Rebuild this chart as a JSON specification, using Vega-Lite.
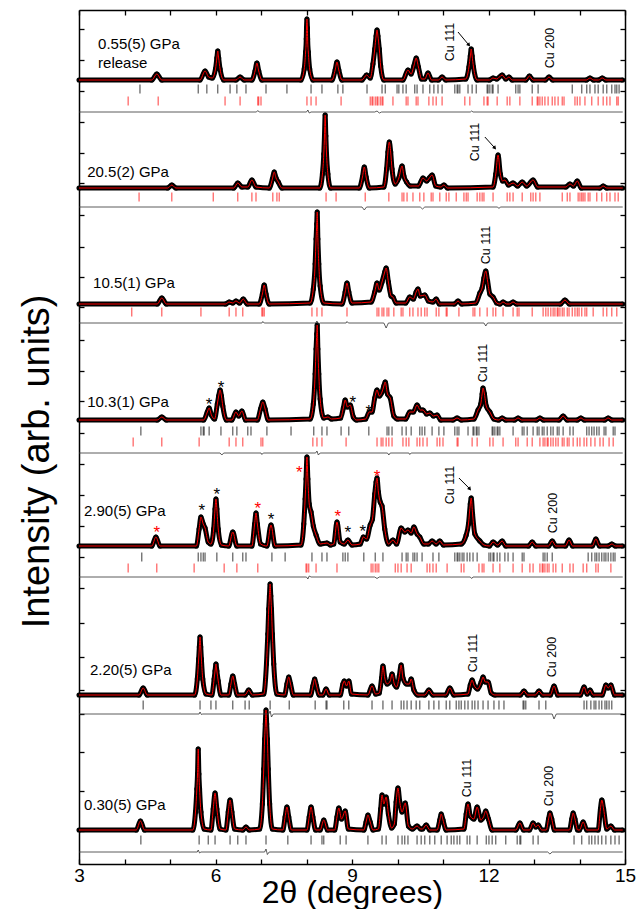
{
"$schema": "https://vega.github.io/schema/vega-lite/v6.json",
"width": 546, "height": 854,
"autosize": "none",
"padding": {"left": 79, "top": 10, "right": 16, "bottom": 45},
"background": "white",
"config": {"view": {"stroke": null}, "font": "Liberation Sans"},
"datasets": {
"obs": [
{"p":1,"x":3.0,"y":784},{"p":1,"x":4.6,"y":784},{"p":1,"x":4.71,"y":790},{"p":1,"x":4.82,"y":784},{"p":1,"x":5.66,"y":784},{"p":1,"x":5.77,"y":793},{"p":1,"x":5.85,"y":787},{"p":1,"x":5.93,"y":786},{"p":1,"x":6.0,"y":795},{"p":1,"x":6.03,"y":806},{"p":1,"x":6.05,"y":813},{"p":1,"x":6.07,"y":806},{"p":1,"x":6.1,"y":795},{"p":1,"x":6.18,"y":784},{"p":1,"x":6.45,"y":784},{"p":1,"x":6.54,"y":787},{"p":1,"x":6.63,"y":784},{"p":1,"x":6.8,"y":784},{"p":1,"x":6.87,"y":793},{"p":1,"x":6.91,"y":801},{"p":1,"x":6.95,"y":793},{"p":1,"x":7.02,"y":784},{"p":1,"x":7.88,"y":784},{"p":1,"x":7.95,"y":795},{"p":1,"x":7.98,"y":812},{"p":1,"x":7.995,"y":825},{"p":1,"x":8.0,"y":836},{"p":1,"x":8.01,"y":845},{"p":1,"x":8.02,"y":836},{"p":1,"x":8.025,"y":825},{"p":1,"x":8.04,"y":812},{"p":1,"x":8.07,"y":795},{"p":1,"x":8.14,"y":784},{"p":1,"x":8.56,"y":784},{"p":1,"x":8.63,"y":794},{"p":1,"x":8.67,"y":802},{"p":1,"x":8.71,"y":794},{"p":1,"x":8.78,"y":784},{"p":1,"x":9.22,"y":784},{"p":1,"x":9.32,"y":789},{"p":1,"x":9.4,"y":786},{"p":1,"x":9.46,"y":800},{"p":1,"x":9.5,"y":815},{"p":1,"x":9.53,"y":828},{"p":1,"x":9.55,"y":834},{"p":1,"x":9.57,"y":828},{"p":1,"x":9.6,"y":815},{"p":1,"x":9.63,"y":798},{"p":1,"x":9.7,"y":784},{"p":1,"x":10.12,"y":784},{"p":1,"x":10.23,"y":794},{"p":1,"x":10.3,"y":790},{"p":1,"x":10.36,"y":798},{"p":1,"x":10.41,"y":806},{"p":1,"x":10.46,"y":797},{"p":1,"x":10.53,"y":785},{"p":1,"x":10.6,"y":785},{"p":1,"x":10.67,"y":791},{"p":1,"x":10.75,"y":784},{"p":1,"x":10.9,"y":784},{"p":1,"x":10.98,"y":787},{"p":1,"x":11.06,"y":784},{"p":1,"x":11.5,"y":785},{"p":1,"x":11.57,"y":797},{"p":1,"x":11.6,"y":808},{"p":1,"x":11.62,"y":815},{"p":1,"x":11.64,"y":808},{"p":1,"x":11.67,"y":797},{"p":1,"x":11.75,"y":784},{"p":1,"x":12.02,"y":784},{"p":1,"x":12.1,"y":786},{"p":1,"x":12.18,"y":785},{"p":1,"x":12.3,"y":789},{"p":1,"x":12.38,"y":785},{"p":1,"x":12.45,"y":787},{"p":1,"x":12.52,"y":784},{"p":1,"x":12.82,"y":784},{"p":1,"x":12.9,"y":788},{"p":1,"x":12.98,"y":784},{"p":1,"x":13.25,"y":784},{"p":1,"x":13.33,"y":787},{"p":1,"x":13.41,"y":784},{"p":1,"x":14.15,"y":784},{"p":1,"x":14.23,"y":786},{"p":1,"x":14.31,"y":784},{"p":1,"x":14.42,"y":784},{"p":1,"x":14.5,"y":786},{"p":1,"x":14.58,"y":784},{"p":1,"x":14.95,"y":784},
{"p":2,"x":3.0,"y":676},{"p":2,"x":4.95,"y":676},{"p":2,"x":5.04,"y":679},{"p":2,"x":5.13,"y":676},{"p":2,"x":6.4,"y":676},{"p":2,"x":6.49,"y":681},{"p":2,"x":6.58,"y":677},{"p":2,"x":6.71,"y":677},{"p":2,"x":6.8,"y":684},{"p":2,"x":6.89,"y":677},{"p":2,"x":7.18,"y":676},{"p":2,"x":7.25,"y":685},{"p":2,"x":7.29,"y":692},{"p":2,"x":7.33,"y":686},{"p":2,"x":7.38,"y":682},{"p":2,"x":7.46,"y":676},{"p":2,"x":8.29,"y":676},{"p":2,"x":8.35,"y":690},{"p":2,"x":8.38,"y":710},{"p":2,"x":8.395,"y":728},{"p":2,"x":8.41,"y":749},{"p":2,"x":8.425,"y":728},{"p":2,"x":8.44,"y":710},{"p":2,"x":8.47,"y":690},{"p":2,"x":8.53,"y":676},{"p":2,"x":9.16,"y":676},{"p":2,"x":9.23,"y":687},{"p":2,"x":9.27,"y":697},{"p":2,"x":9.31,"y":687},{"p":2,"x":9.38,"y":676},{"p":2,"x":9.7,"y":677},{"p":2,"x":9.76,"y":695},{"p":2,"x":9.79,"y":712},{"p":2,"x":9.82,"y":722},{"p":2,"x":9.85,"y":712},{"p":2,"x":9.88,"y":695},{"p":2,"x":9.95,"y":680},{"p":2,"x":10.03,"y":686},{"p":2,"x":10.1,"y":698},{"p":2,"x":10.14,"y":688},{"p":2,"x":10.2,"y":682},{"p":2,"x":10.28,"y":678},{"p":2,"x":10.46,"y":678},{"p":2,"x":10.56,"y":686},{"p":2,"x":10.64,"y":683},{"p":2,"x":10.7,"y":686},{"p":2,"x":10.76,"y":689},{"p":2,"x":10.84,"y":678},{"p":2,"x":10.95,"y":677},{"p":2,"x":11.02,"y":679},{"p":2,"x":11.1,"y":676},{"p":2,"x":12.1,"y":677},{"p":2,"x":12.16,"y":690},{"p":2,"x":12.21,"y":709},{"p":2,"x":12.26,"y":690},{"p":2,"x":12.31,"y":683},{"p":2,"x":12.36,"y":684},{"p":2,"x":12.44,"y":679},{"p":2,"x":12.54,"y":681},{"p":2,"x":12.64,"y":678},{"p":2,"x":12.74,"y":682},{"p":2,"x":12.84,"y":678},{"p":2,"x":12.98,"y":684},{"p":2,"x":13.08,"y":677},{"p":2,"x":13.7,"y":677},{"p":2,"x":13.79,"y":680},{"p":2,"x":13.87,"y":678},{"p":2,"x":13.95,"y":683},{"p":2,"x":14.04,"y":676},{"p":2,"x":14.45,"y":676},{"p":2,"x":14.52,"y":678},{"p":2,"x":14.6,"y":676},{"p":2,"x":14.95,"y":676},
{"p":3,"x":3.0,"y":560},{"p":3,"x":4.72,"y":560},{"p":3,"x":4.82,"y":566},{"p":3,"x":4.92,"y":560},{"p":3,"x":6.22,"y":560},{"p":3,"x":6.3,"y":562},{"p":3,"x":6.38,"y":561},{"p":3,"x":6.45,"y":563},{"p":3,"x":6.53,"y":561},{"p":3,"x":6.61,"y":565},{"p":3,"x":6.7,"y":560},{"p":3,"x":6.96,"y":560},{"p":3,"x":7.03,"y":570},{"p":3,"x":7.07,"y":579},{"p":3,"x":7.11,"y":570},{"p":3,"x":7.18,"y":560},{"p":3,"x":8.08,"y":561},{"p":3,"x":8.15,"y":575},{"p":3,"x":8.19,"y":600},{"p":3,"x":8.21,"y":625},{"p":3,"x":8.225,"y":640},{"p":3,"x":8.235,"y":652},{"p":3,"x":8.25,"y":625},{"p":3,"x":8.27,"y":600},{"p":3,"x":8.3,"y":578},{"p":3,"x":8.38,"y":561},{"p":3,"x":8.78,"y":560},{"p":3,"x":8.85,"y":572},{"p":3,"x":8.89,"y":581},{"p":3,"x":8.93,"y":572},{"p":3,"x":9.0,"y":561},{"p":3,"x":9.42,"y":562},{"p":3,"x":9.5,"y":572},{"p":3,"x":9.55,"y":581},{"p":3,"x":9.6,"y":574},{"p":3,"x":9.66,"y":582},{"p":3,"x":9.72,"y":592},{"p":3,"x":9.75,"y":596},{"p":3,"x":9.8,"y":582},{"p":3,"x":9.86,"y":568},{"p":3,"x":9.9,"y":567},{"p":3,"x":9.97,"y":561},{"p":3,"x":10.18,"y":561},{"p":3,"x":10.27,"y":567},{"p":3,"x":10.35,"y":565},{"p":3,"x":10.41,"y":572},{"p":3,"x":10.45,"y":575},{"p":3,"x":10.5,"y":568},{"p":3,"x":10.6,"y":569},{"p":3,"x":10.68,"y":563},{"p":3,"x":10.78,"y":562},{"p":3,"x":10.85,"y":565},{"p":3,"x":10.92,"y":560},{"p":3,"x":11.25,"y":560},{"p":3,"x":11.33,"y":563},{"p":3,"x":11.41,"y":560},{"p":3,"x":11.72,"y":561},{"p":3,"x":11.81,"y":571},{"p":3,"x":11.86,"y":576},{"p":3,"x":11.9,"y":586},{"p":3,"x":11.94,"y":593},{"p":3,"x":11.98,"y":583},{"p":3,"x":12.03,"y":570},{"p":3,"x":12.1,"y":567},{"p":3,"x":12.18,"y":561},{"p":3,"x":12.25,"y":560},{"p":3,"x":12.32,"y":562},{"p":3,"x":12.4,"y":560},{"p":3,"x":12.46,"y":560},{"p":3,"x":12.54,"y":562},{"p":3,"x":12.62,"y":560},{"p":3,"x":13.58,"y":560},{"p":3,"x":13.68,"y":564},{"p":3,"x":13.78,"y":560},{"p":3,"x":14.95,"y":560},
{"p":4,"x":3.0,"y":444},{"p":4,"x":4.72,"y":444},{"p":4,"x":4.82,"y":447},{"p":4,"x":4.92,"y":444},{"p":4,"x":5.74,"y":444},{"p":4,"x":5.82,"y":452},{"p":4,"x":5.86,"y":456},{"p":4,"x":5.91,"y":449},{"p":4,"x":5.98,"y":445},{"p":4,"x":6.04,"y":460},{"p":4,"x":6.07,"y":468},{"p":4,"x":6.1,"y":474},{"p":4,"x":6.13,"y":468},{"p":4,"x":6.16,"y":458},{"p":4,"x":6.24,"y":444},{"p":4,"x":6.36,"y":444},{"p":4,"x":6.45,"y":452},{"p":4,"x":6.51,"y":448},{"p":4,"x":6.58,"y":453},{"p":4,"x":6.66,"y":444},{"p":4,"x":6.92,"y":444},{"p":4,"x":6.99,"y":455},{"p":4,"x":7.04,"y":462},{"p":4,"x":7.09,"y":455},{"p":4,"x":7.16,"y":444},{"p":4,"x":8.08,"y":445},{"p":4,"x":8.15,"y":460},{"p":4,"x":8.19,"y":490},{"p":4,"x":8.21,"y":515},{"p":4,"x":8.225,"y":530},{"p":4,"x":8.235,"y":539},{"p":4,"x":8.25,"y":515},{"p":4,"x":8.27,"y":490},{"p":4,"x":8.3,"y":465},{"p":4,"x":8.38,"y":446},{"p":4,"x":8.47,"y":447},{"p":4,"x":8.55,"y":445},{"p":4,"x":8.75,"y":446},{"p":4,"x":8.81,"y":456},{"p":4,"x":8.85,"y":464},{"p":4,"x":8.9,"y":457},{"p":4,"x":8.96,"y":459},{"p":4,"x":9.03,"y":447},{"p":4,"x":9.1,"y":444},{"p":4,"x":9.3,"y":445},{"p":4,"x":9.38,"y":452},{"p":4,"x":9.44,"y":452},{"p":4,"x":9.5,"y":466},{"p":4,"x":9.55,"y":474},{"p":4,"x":9.6,"y":468},{"p":4,"x":9.66,"y":472},{"p":4,"x":9.7,"y":478},{"p":4,"x":9.73,"y":482},{"p":4,"x":9.78,"y":470},{"p":4,"x":9.84,"y":466},{"p":4,"x":9.92,"y":448},{"p":4,"x":10.0,"y":445},{"p":4,"x":10.18,"y":445},{"p":4,"x":10.27,"y":452},{"p":4,"x":10.35,"y":452},{"p":4,"x":10.43,"y":459},{"p":4,"x":10.5,"y":454},{"p":4,"x":10.56,"y":454},{"p":4,"x":10.64,"y":450},{"p":4,"x":10.71,"y":451},{"p":4,"x":10.79,"y":448},{"p":4,"x":10.87,"y":449},{"p":4,"x":10.95,"y":444},{"p":4,"x":11.22,"y":444},{"p":4,"x":11.31,"y":446},{"p":4,"x":11.4,"y":444},{"p":4,"x":11.68,"y":445},{"p":4,"x":11.77,"y":454},{"p":4,"x":11.83,"y":460},{"p":4,"x":11.86,"y":470},{"p":4,"x":11.88,"y":476},{"p":4,"x":11.91,"y":470},{"p":4,"x":11.95,"y":458},{"p":4,"x":12.03,"y":452},{"p":4,"x":12.12,"y":445},{"p":4,"x":12.22,"y":444},{"p":4,"x":12.3,"y":446},{"p":4,"x":12.38,"y":444},{"p":4,"x":12.57,"y":444},{"p":4,"x":12.65,"y":446},{"p":4,"x":12.73,"y":444},{"p":4,"x":13.05,"y":444},{"p":4,"x":13.13,"y":446},{"p":4,"x":13.21,"y":444},{"p":4,"x":13.55,"y":444},{"p":4,"x":13.64,"y":448},{"p":4,"x":13.73,"y":444},{"p":4,"x":13.95,"y":444},{"p":4,"x":14.03,"y":446},{"p":4,"x":14.11,"y":444},{"p":4,"x":14.55,"y":444},{"p":4,"x":14.63,"y":446},{"p":4,"x":14.71,"y":444},{"p":4,"x":14.95,"y":444},
{"p":5,"x":3.0,"y":318},{"p":5,"x":4.6,"y":318},{"p":5,"x":4.69,"y":327},{"p":5,"x":4.78,"y":318},{"p":5,"x":5.58,"y":318},{"p":5,"x":5.64,"y":335},{"p":5,"x":5.68,"y":347},{"p":5,"x":5.73,"y":340},{"p":5,"x":5.77,"y":336},{"p":5,"x":5.84,"y":322},{"p":5,"x":5.9,"y":320},{"p":5,"x":5.96,"y":335},{"p":5,"x":5.99,"y":355},{"p":5,"x":6.01,"y":365},{"p":5,"x":6.03,"y":355},{"p":5,"x":6.06,"y":335},{"p":5,"x":6.13,"y":319},{"p":5,"x":6.29,"y":318},{"p":5,"x":6.38,"y":332},{"p":5,"x":6.47,"y":318},{"p":5,"x":6.8,"y":318},{"p":5,"x":6.86,"y":340},{"p":5,"x":6.89,"y":351},{"p":5,"x":6.92,"y":340},{"p":5,"x":6.99,"y":320},{"p":5,"x":7.13,"y":318},{"p":5,"x":7.22,"y":339},{"p":5,"x":7.31,"y":318},{"p":5,"x":7.88,"y":319},{"p":5,"x":7.94,"y":340},{"p":5,"x":7.97,"y":365},{"p":5,"x":7.99,"y":385},{"p":5,"x":8.01,"y":407},{"p":5,"x":8.03,"y":385},{"p":5,"x":8.06,"y":360},{"p":5,"x":8.1,"y":352},{"p":5,"x":8.15,"y":338},{"p":5,"x":8.21,"y":329},{"p":5,"x":8.3,"y":320},{"p":5,"x":8.45,"y":321},{"p":5,"x":8.53,"y":319},{"p":5,"x":8.6,"y":320},{"p":5,"x":8.67,"y":342},{"p":5,"x":8.74,"y":322},{"p":5,"x":8.83,"y":320},{"p":5,"x":8.91,"y":324},{"p":5,"x":9.0,"y":319},{"p":5,"x":9.18,"y":320},{"p":5,"x":9.25,"y":327},{"p":5,"x":9.32,"y":325},{"p":5,"x":9.4,"y":339},{"p":5,"x":9.45,"y":345},{"p":5,"x":9.5,"y":370},{"p":5,"x":9.53,"y":382},{"p":5,"x":9.55,"y":386},{"p":5,"x":9.58,"y":372},{"p":5,"x":9.62,"y":362},{"p":5,"x":9.66,"y":358},{"p":5,"x":9.72,"y":335},{"p":5,"x":9.8,"y":320},{"p":5,"x":9.9,"y":324},{"p":5,"x":9.98,"y":320},{"p":5,"x":10.08,"y":336},{"p":5,"x":10.16,"y":332},{"p":5,"x":10.23,"y":334},{"p":5,"x":10.3,"y":331},{"p":5,"x":10.36,"y":337},{"p":5,"x":10.43,"y":330},{"p":5,"x":10.49,"y":327},{"p":5,"x":10.58,"y":320},{"p":5,"x":10.68,"y":320},{"p":5,"x":10.76,"y":323},{"p":5,"x":10.85,"y":320},{"p":5,"x":10.93,"y":323},{"p":5,"x":11.01,"y":319},{"p":5,"x":11.4,"y":320},{"p":5,"x":11.51,"y":329},{"p":5,"x":11.56,"y":340},{"p":5,"x":11.6,"y":360},{"p":5,"x":11.62,"y":366},{"p":5,"x":11.65,"y":350},{"p":5,"x":11.7,"y":330},{"p":5,"x":11.81,"y":323},{"p":5,"x":11.9,"y":319},{"p":5,"x":12.02,"y":318},{"p":5,"x":12.1,"y":322},{"p":5,"x":12.2,"y":319},{"p":5,"x":12.3,"y":323},{"p":5,"x":12.38,"y":318},{"p":5,"x":12.88,"y":318},{"p":5,"x":12.96,"y":322},{"p":5,"x":13.04,"y":318},{"p":5,"x":13.32,"y":318},{"p":5,"x":13.4,"y":323},{"p":5,"x":13.48,"y":318},{"p":5,"x":13.69,"y":318},{"p":5,"x":13.77,"y":324},{"p":5,"x":13.85,"y":318},{"p":5,"x":14.28,"y":318},{"p":5,"x":14.36,"y":325},{"p":5,"x":14.44,"y":318},{"p":5,"x":14.63,"y":318},{"p":5,"x":14.71,"y":320},{"p":5,"x":14.79,"y":318},{"p":5,"x":14.95,"y":318},
{"p":6,"x":3.0,"y":169},{"p":6,"x":4.32,"y":169},{"p":6,"x":4.41,"y":176},{"p":6,"x":4.5,"y":169},{"p":6,"x":5.54,"y":169},{"p":6,"x":5.6,"y":185},{"p":6,"x":5.63,"y":205},{"p":6,"x":5.645,"y":217},{"p":6,"x":5.66,"y":227},{"p":6,"x":5.675,"y":217},{"p":6,"x":5.69,"y":205},{"p":6,"x":5.72,"y":185},{"p":6,"x":5.79,"y":170},{"p":6,"x":5.92,"y":169},{"p":6,"x":5.97,"y":185},{"p":6,"x":5.99,"y":193},{"p":6,"x":6.01,"y":200},{"p":6,"x":6.03,"y":193},{"p":6,"x":6.06,"y":183},{"p":6,"x":6.12,"y":169},{"p":6,"x":6.29,"y":169},{"p":6,"x":6.34,"y":180},{"p":6,"x":6.38,"y":188},{"p":6,"x":6.42,"y":180},{"p":6,"x":6.48,"y":169},{"p":6,"x":6.65,"y":169},{"p":6,"x":6.73,"y":174},{"p":6,"x":6.81,"y":169},{"p":6,"x":7.06,"y":170},{"p":6,"x":7.12,"y":200},{"p":6,"x":7.15,"y":230},{"p":6,"x":7.17,"y":255},{"p":6,"x":7.185,"y":268},{"p":6,"x":7.2,"y":280},{"p":6,"x":7.215,"y":268},{"p":6,"x":7.23,"y":255},{"p":6,"x":7.25,"y":230},{"p":6,"x":7.28,"y":200},{"p":6,"x":7.35,"y":170},{"p":6,"x":7.52,"y":169},{"p":6,"x":7.57,"y":180},{"p":6,"x":7.61,"y":187},{"p":6,"x":7.65,"y":180},{"p":6,"x":7.71,"y":169},{"p":6,"x":8.09,"y":169},{"p":6,"x":8.14,"y":178},{"p":6,"x":8.18,"y":185},{"p":6,"x":8.22,"y":178},{"p":6,"x":8.28,"y":169},{"p":6,"x":8.36,"y":169},{"p":6,"x":8.43,"y":175},{"p":6,"x":8.5,"y":169},{"p":6,"x":8.74,"y":169},{"p":6,"x":8.8,"y":180},{"p":6,"x":8.83,"y":183},{"p":6,"x":8.88,"y":178},{"p":6,"x":8.93,"y":183},{"p":6,"x":8.99,"y":170},{"p":6,"x":9.35,"y":169},{"p":6,"x":9.44,"y":178},{"p":6,"x":9.52,"y":170},{"p":6,"x":9.6,"y":171},{"p":6,"x":9.65,"y":186},{"p":6,"x":9.68,"y":198},{"p":6,"x":9.72,"y":186},{"p":6,"x":9.77,"y":180},{"p":6,"x":9.84,"y":183},{"p":6,"x":9.88,"y":190},{"p":6,"x":9.93,"y":180},{"p":6,"x":9.98,"y":177},{"p":6,"x":10.04,"y":188},{"p":6,"x":10.08,"y":199},{"p":6,"x":10.12,"y":186},{"p":6,"x":10.2,"y":180},{"p":6,"x":10.26,"y":180},{"p":6,"x":10.3,"y":185},{"p":6,"x":10.36,"y":174},{"p":6,"x":10.45,"y":169},{"p":6,"x":10.6,"y":169},{"p":6,"x":10.69,"y":174},{"p":6,"x":10.78,"y":169},{"p":6,"x":11.06,"y":169},{"p":6,"x":11.15,"y":176},{"p":6,"x":11.24,"y":169},{"p":6,"x":11.55,"y":170},{"p":6,"x":11.6,"y":179},{"p":6,"x":11.64,"y":184},{"p":6,"x":11.68,"y":179},{"p":6,"x":11.76,"y":175},{"p":6,"x":11.84,"y":182},{"p":6,"x":11.88,"y":187},{"p":6,"x":11.93,"y":182},{"p":6,"x":11.99,"y":182},{"p":6,"x":12.06,"y":171},{"p":6,"x":12.14,"y":169},{"p":6,"x":12.7,"y":169},{"p":6,"x":12.78,"y":173},{"p":6,"x":12.86,"y":169},{"p":6,"x":13.03,"y":169},{"p":6,"x":13.11,"y":173},{"p":6,"x":13.19,"y":169},{"p":6,"x":13.36,"y":169},{"p":6,"x":13.44,"y":178},{"p":6,"x":13.52,"y":169},{"p":6,"x":14.02,"y":169},{"p":6,"x":14.1,"y":177},{"p":6,"x":14.17,"y":170},{"p":6,"x":14.23,"y":174},{"p":6,"x":14.3,"y":169},{"p":6,"x":14.5,"y":169},{"p":6,"x":14.58,"y":179},{"p":6,"x":14.63,"y":176},{"p":6,"x":14.69,"y":179},{"p":6,"x":14.77,"y":169},{"p":6,"x":14.95,"y":169},
{"p":7,"x":3.0,"y":34},{"p":7,"x":4.26,"y":34},{"p":7,"x":4.35,"y":43},{"p":7,"x":4.44,"y":34},{"p":7,"x":5.5,"y":34},{"p":7,"x":5.56,"y":52},{"p":7,"x":5.59,"y":75},{"p":7,"x":5.605,"y":90},{"p":7,"x":5.62,"y":115},{"p":7,"x":5.635,"y":90},{"p":7,"x":5.65,"y":75},{"p":7,"x":5.68,"y":52},{"p":7,"x":5.75,"y":35},{"p":7,"x":5.9,"y":34},{"p":7,"x":5.95,"y":55},{"p":7,"x":5.99,"y":71},{"p":7,"x":6.03,"y":55},{"p":7,"x":6.1,"y":35},{"p":7,"x":6.23,"y":34},{"p":7,"x":6.28,"y":52},{"p":7,"x":6.32,"y":64},{"p":7,"x":6.36,"y":52},{"p":7,"x":6.42,"y":35},{"p":7,"x":6.6,"y":34},{"p":7,"x":6.67,"y":37},{"p":7,"x":6.74,"y":34},{"p":7,"x":6.97,"y":35},{"p":7,"x":7.03,"y":60},{"p":7,"x":7.06,"y":95},{"p":7,"x":7.08,"y":125},{"p":7,"x":7.095,"y":140},{"p":7,"x":7.11,"y":154},{"p":7,"x":7.125,"y":140},{"p":7,"x":7.14,"y":125},{"p":7,"x":7.16,"y":95},{"p":7,"x":7.19,"y":60},{"p":7,"x":7.25,"y":35},{"p":7,"x":7.48,"y":34},{"p":7,"x":7.53,"y":47},{"p":7,"x":7.57,"y":57},{"p":7,"x":7.61,"y":47},{"p":7,"x":7.67,"y":34},{"p":7,"x":8.01,"y":34},{"p":7,"x":8.06,"y":47},{"p":7,"x":8.1,"y":57},{"p":7,"x":8.14,"y":47},{"p":7,"x":8.2,"y":34},{"p":7,"x":8.3,"y":34},{"p":7,"x":8.38,"y":44},{"p":7,"x":8.46,"y":34},{"p":7,"x":8.62,"y":34},{"p":7,"x":8.67,"y":47},{"p":7,"x":8.71,"y":56},{"p":7,"x":8.77,"y":45},{"p":7,"x":8.85,"y":53},{"p":7,"x":8.92,"y":35},{"p":7,"x":9.26,"y":34},{"p":7,"x":9.31,"y":42},{"p":7,"x":9.35,"y":49},{"p":7,"x":9.4,"y":42},{"p":7,"x":9.46,"y":34},{"p":7,"x":9.58,"y":35},{"p":7,"x":9.63,"y":55},{"p":7,"x":9.66,"y":69},{"p":7,"x":9.7,"y":60},{"p":7,"x":9.75,"y":67},{"p":7,"x":9.8,"y":50},{"p":7,"x":9.87,"y":36},{"p":7,"x":9.93,"y":40},{"p":7,"x":9.97,"y":62},{"p":7,"x":10.01,"y":76},{"p":7,"x":10.05,"y":62},{"p":7,"x":10.1,"y":52},{"p":7,"x":10.17,"y":61},{"p":7,"x":10.24,"y":38},{"p":7,"x":10.33,"y":35},{"p":7,"x":10.43,"y":38},{"p":7,"x":10.51,"y":35},{"p":7,"x":10.55,"y":35},{"p":7,"x":10.63,"y":39},{"p":7,"x":10.71,"y":34},{"p":7,"x":10.87,"y":34},{"p":7,"x":10.93,"y":44},{"p":7,"x":10.96,"y":50},{"p":7,"x":11.0,"y":44},{"p":7,"x":11.07,"y":34},{"p":7,"x":11.46,"y":35},{"p":7,"x":11.51,"y":50},{"p":7,"x":11.55,"y":60},{"p":7,"x":11.6,"y":48},{"p":7,"x":11.68,"y":45},{"p":7,"x":11.75,"y":57},{"p":7,"x":11.83,"y":44},{"p":7,"x":11.89,"y":47},{"p":7,"x":11.94,"y":53},{"p":7,"x":12.0,"y":45},{"p":7,"x":12.08,"y":34},{"p":7,"x":12.6,"y":34},{"p":7,"x":12.69,"y":41},{"p":7,"x":12.77,"y":34},{"p":7,"x":12.9,"y":34},{"p":7,"x":12.98,"y":41},{"p":7,"x":13.04,"y":37},{"p":7,"x":13.09,"y":39},{"p":7,"x":13.17,"y":34},{"p":7,"x":13.27,"y":34},{"p":7,"x":13.32,"y":45},{"p":7,"x":13.35,"y":51},{"p":7,"x":13.39,"y":45},{"p":7,"x":13.45,"y":34},{"p":7,"x":13.78,"y":34},{"p":7,"x":13.83,"y":45},{"p":7,"x":13.86,"y":51},{"p":7,"x":13.9,"y":45},{"p":7,"x":13.96,"y":34},{"p":7,"x":14.0,"y":34},{"p":7,"x":14.08,"y":42},{"p":7,"x":14.16,"y":34},{"p":7,"x":14.41,"y":34},{"p":7,"x":14.46,"y":55},{"p":7,"x":14.49,"y":64},{"p":7,"x":14.53,"y":55},{"p":7,"x":14.6,"y":35},{"p":7,"x":14.69,"y":38},{"p":7,"x":14.77,"y":34},{"p":7,"x":14.95,"y":34}
],
"diff": [
{"p":1,"x":3.0,"y":752},{"p":1,"x":6.9,"y":752},{"p":1,"x":6.93,"y":753.5},{"p":1,"x":6.96,"y":752},{"p":1,"x":8.0,"y":752},{"p":1,"x":8.03,"y":754},{"p":1,"x":8.06,"y":751},{"p":1,"x":8.1,"y":752},{"p":1,"x":9.5,"y":752},{"p":1,"x":9.55,"y":753},{"p":1,"x":9.6,"y":751},{"p":1,"x":9.65,"y":752},{"p":1,"x":11.6,"y":752},{"p":1,"x":11.63,"y":753},{"p":1,"x":11.66,"y":752},{"p":1,"x":14.95,"y":752},
{"p":2,"x":3.0,"y":657},{"p":2,"x":9.22,"y":657},{"p":2,"x":9.27,"y":654},{"p":2,"x":9.32,"y":657},{"p":2,"x":10.5,"y":657},{"p":2,"x":10.55,"y":655},{"p":2,"x":10.6,"y":657},{"p":2,"x":12.2,"y":657},{"p":2,"x":12.23,"y":655.5},{"p":2,"x":12.26,"y":657},{"p":2,"x":14.95,"y":657},
{"p":3,"x":3.0,"y":541},{"p":3,"x":7.02,"y":541},{"p":3,"x":7.04,"y":542.5},{"p":3,"x":7.07,"y":541},{"p":3,"x":8.2,"y":541},{"p":3,"x":8.23,"y":543},{"p":3,"x":8.26,"y":540},{"p":3,"x":8.3,"y":541},{"p":3,"x":8.87,"y":541},{"p":3,"x":8.89,"y":542.5},{"p":3,"x":8.92,"y":541},{"p":3,"x":9.7,"y":541},{"p":3,"x":9.75,"y":536},{"p":3,"x":9.8,"y":541},{"p":3,"x":11.9,"y":541},{"p":3,"x":11.94,"y":538},{"p":3,"x":11.98,"y":541},{"p":3,"x":14.95,"y":541},
{"p":4,"x":3.0,"y":411},{"p":4,"x":6.1,"y":411},{"p":4,"x":6.14,"y":409},{"p":4,"x":6.18,"y":411},{"p":4,"x":7.0,"y":411},{"p":4,"x":7.02,"y":409.5},{"p":4,"x":7.05,"y":411},{"p":4,"x":8.2,"y":411},{"p":4,"x":8.23,"y":413},{"p":4,"x":8.26,"y":409},{"p":4,"x":8.3,"y":411},{"p":4,"x":9.78,"y":411},{"p":4,"x":9.81,"y":409},{"p":4,"x":9.84,"y":411},{"p":4,"x":10.25,"y":411},{"p":4,"x":10.27,"y":409.5},{"p":4,"x":10.3,"y":411},{"p":4,"x":14.95,"y":411},
{"p":5,"x":3.0,"y":287},{"p":5,"x":8.0,"y":287},{"p":5,"x":8.03,"y":285},{"p":5,"x":8.06,"y":288},{"p":5,"x":8.1,"y":287},{"p":5,"x":9.5,"y":287},{"p":5,"x":9.55,"y":285.5},{"p":5,"x":9.6,"y":287},{"p":5,"x":11.6,"y":287},{"p":5,"x":11.63,"y":285.5},{"p":5,"x":11.66,"y":287},{"p":5,"x":14.95,"y":287},
{"p":6,"x":3.0,"y":150},{"p":6,"x":5.64,"y":150},{"p":6,"x":5.66,"y":152},{"p":6,"x":5.69,"y":149.5},{"p":6,"x":5.72,"y":150},{"p":6,"x":7.17,"y":150},{"p":6,"x":7.2,"y":153},{"p":6,"x":7.23,"y":147},{"p":6,"x":7.27,"y":150},{"p":6,"x":13.4,"y":150},{"p":6,"x":13.44,"y":145},{"p":6,"x":13.49,"y":150},{"p":6,"x":14.95,"y":150},
{"p":7,"x":3.0,"y":12},{"p":7,"x":5.6,"y":12},{"p":7,"x":5.62,"y":14},{"p":7,"x":5.65,"y":11},{"p":7,"x":5.68,"y":12},{"p":7,"x":7.08,"y":12},{"p":7,"x":7.11,"y":15},{"p":7,"x":7.14,"y":9.5},{"p":7,"x":7.18,"y":12},{"p":7,"x":13.3,"y":12},{"p":7,"x":13.35,"y":10},{"p":7,"x":13.4,"y":12},{"p":7,"x":14.95,"y":12}
],
"lv": [
{"g":"1k","y":775,"c":"k"},{"g":"1r","y":763,"c":"r"},{"g":"2r","y":667,"c":"r"},{"g":"3r","y":552,"c":"r"},{"g":"4k","y":433,"c":"k"},{"g":"4r","y":422,"c":"r"},{"g":"5k","y":307,"c":"k"},{"g":"5r","y":296,"c":"r"},{"g":"6k","y":159,"c":"k"},{"g":"7k","y":24,"c":"k"}
],
"refl": [
{"g":"1k","x":4.34},{"g":"1k","x":5.62},{"g":"1k","x":5.81},{"g":"1k","x":6.05},{"g":"1k","x":6.32},{"g":"1k","x":6.47},{"g":"1k","x":6.67},{"g":"1k","x":7.11},{"g":"1k","x":7.57},{"g":"1k","x":8.1},{"g":"1k","x":8.34},{"g":"1k","x":8.69},{"g":"1k","x":8.8},{"g":"1k","x":9.33},{"g":"1k","x":9.66},{"g":"1k","x":9.73},{"g":"1k","x":9.99},{"g":"1k","x":10.03},{"g":"1k","x":10.12},{"g":"1k","x":10.19},{"g":"1k","x":10.38},{"g":"1k","x":10.43},{"g":"1k","x":10.56},{"g":"1k","x":10.71},{"g":"1k","x":10.8},{"g":"1k","x":10.89},{"g":"1k","x":10.98},{"g":"1k","x":11.26},{"g":"1k","x":11.31},{"g":"1k","x":11.33},{"g":"1k","x":11.37},{"g":"1k","x":11.55},{"g":"1k","x":11.64},{"g":"1k","x":11.73},{"g":"1k","x":11.97},{"g":"1k","x":11.99},{"g":"1k","x":12.03},{"g":"1k","x":12.08},{"g":"1k","x":12.1},{"g":"1k","x":12.21},{"g":"1k","x":12.6},{"g":"1k","x":12.65},{"g":"1k","x":12.69},{"g":"1k","x":12.96},{"g":"1k","x":13.09},{"g":"1k","x":13.84},{"g":"1k","x":14.05},{"g":"1k","x":14.16},{"g":"1k","x":14.23},{"g":"1k","x":14.34},{"g":"1k","x":14.41},{"g":"1k","x":14.52},{"g":"1k","x":14.6},{"g":"1k","x":14.71},{"g":"1k","x":14.78},{"g":"1k","x":14.82},{"g":"1k","x":14.87},
{"g":"1r","x":4.08},{"g":"1r","x":4.74},{"g":"1r","x":6.21},{"g":"1r","x":6.54},{"g":"1r","x":6.93},{"g":"1r","x":6.95},{"g":"1r","x":7.0},{"g":"1r","x":8.01},{"g":"1r","x":8.1},{"g":"1r","x":8.21},{"g":"1r","x":8.76},{"g":"1r","x":9.4},{"g":"1r","x":9.44},{"g":"1r","x":9.46},{"g":"1r","x":9.51},{"g":"1r","x":9.55},{"g":"1r","x":9.57},{"g":"1r","x":9.62},{"g":"1r","x":9.66},{"g":"1r","x":9.68},{"g":"1r","x":9.9},{"g":"1r","x":10.19},{"g":"1r","x":10.23},{"g":"1r","x":10.41},{"g":"1r","x":10.45},{"g":"1r","x":10.69},{"g":"1r","x":10.78},{"g":"1r","x":10.85},{"g":"1r","x":10.98},{"g":"1r","x":11.48},{"g":"1r","x":11.59},{"g":"1r","x":11.9},{"g":"1r","x":11.97},{"g":"1r","x":11.99},{"g":"1r","x":12.19},{"g":"1r","x":12.41},{"g":"1r","x":12.47},{"g":"1r","x":12.69},{"g":"1r","x":12.96},{"g":"1r","x":13.07},{"g":"1r","x":13.09},{"g":"1r","x":13.13},{"g":"1r","x":13.18},{"g":"1r","x":13.24},{"g":"1r","x":13.31},{"g":"1r","x":13.4},{"g":"1r","x":13.46},{"g":"1r","x":13.53},{"g":"1r","x":13.62},{"g":"1r","x":13.66},{"g":"1r","x":13.9},{"g":"1r","x":13.95},{"g":"1r","x":14.01},{"g":"1r","x":14.12},{"g":"1r","x":14.27},{"g":"1r","x":14.41},{"g":"1r","x":14.52},{"g":"1r","x":14.6},{"g":"1r","x":14.67},{"g":"1r","x":14.82},{"g":"1r","x":14.85},
{"g":"2r","x":4.32},{"g":"2r","x":5.04},{"g":"2r","x":5.95},{"g":"2r","x":6.49},{"g":"2r","x":6.8},{"g":"2r","x":6.89},{"g":"2r","x":7.26},{"g":"2r","x":7.35},{"g":"2r","x":7.4},{"g":"2r","x":8.43},{"g":"2r","x":8.65},{"g":"2r","x":9.29},{"g":"2r","x":9.81},{"g":"2r","x":10.1},{"g":"2r","x":10.14},{"g":"2r","x":10.21},{"g":"2r","x":10.34},{"g":"2r","x":10.49},{"g":"2r","x":10.58},{"g":"2r","x":10.74},{"g":"2r","x":10.78},{"g":"2r","x":10.93},{"g":"2r","x":11.07},{"g":"2r","x":11.13},{"g":"2r","x":11.29},{"g":"2r","x":11.46},{"g":"2r","x":11.51},{"g":"2r","x":11.55},{"g":"2r","x":11.75},{"g":"2r","x":11.81},{"g":"2r","x":11.86},{"g":"2r","x":11.9},{"g":"2r","x":12.1},{"g":"2r","x":12.41},{"g":"2r","x":12.47},{"g":"2r","x":12.54},{"g":"2r","x":12.74},{"g":"2r","x":12.93},{"g":"2r","x":12.98},{"g":"2r","x":13.04},{"g":"2r","x":13.13},{"g":"2r","x":13.62},{"g":"2r","x":13.73},{"g":"2r","x":13.79},{"g":"2r","x":13.97},{"g":"2r","x":14.01},{"g":"2r","x":14.05},{"g":"2r","x":14.08},{"g":"2r","x":14.12},{"g":"2r","x":14.19},{"g":"2r","x":14.23},{"g":"2r","x":14.38},{"g":"2r","x":14.49},{"g":"2r","x":14.6},{"g":"2r","x":14.67},{"g":"2r","x":14.78},{"g":"2r","x":14.85},
{"g":"3r","x":4.16},{"g":"3r","x":4.82},{"g":"3r","x":5.68},{"g":"3r","x":6.3},{"g":"3r","x":6.45},{"g":"3r","x":6.6},{"g":"3r","x":7.02},{"g":"3r","x":7.04},{"g":"3r","x":7.07},{"g":"3r","x":8.12},{"g":"3r","x":8.23},{"g":"3r","x":8.34},{"g":"3r","x":8.89},{"g":"3r","x":9.55},{"g":"3r","x":9.59},{"g":"3r","x":9.66},{"g":"3r","x":9.7},{"g":"3r","x":9.77},{"g":"3r","x":9.81},{"g":"3r","x":9.92},{"g":"3r","x":10.08},{"g":"3r","x":10.12},{"g":"3r","x":10.27},{"g":"3r","x":10.34},{"g":"3r","x":10.45},{"g":"3r","x":10.52},{"g":"3r","x":10.6},{"g":"3r","x":10.65},{"g":"3r","x":10.85},{"g":"3r","x":10.91},{"g":"3r","x":11.07},{"g":"3r","x":11.09},{"g":"3r","x":11.35},{"g":"3r","x":11.66},{"g":"3r","x":11.7},{"g":"3r","x":11.81},{"g":"3r","x":11.97},{"g":"3r","x":12.1},{"g":"3r","x":12.16},{"g":"3r","x":12.32},{"g":"3r","x":12.54},{"g":"3r","x":12.63},{"g":"3r","x":12.67},{"g":"3r","x":12.96},{"g":"3r","x":13.2},{"g":"3r","x":13.26},{"g":"3r","x":13.31},{"g":"3r","x":13.37},{"g":"3r","x":13.42},{"g":"3r","x":13.46},{"g":"3r","x":13.51},{"g":"3r","x":13.53},{"g":"3r","x":13.57},{"g":"3r","x":13.62},{"g":"3r","x":13.66},{"g":"3r","x":13.73},{"g":"3r","x":13.77},{"g":"3r","x":13.84},{"g":"3r","x":13.9},{"g":"3r","x":13.95},{"g":"3r","x":13.99},{"g":"3r","x":14.05},{"g":"3r","x":14.12},{"g":"3r","x":14.16},{"g":"3r","x":14.3},{"g":"3r","x":14.52},{"g":"3r","x":14.6},{"g":"3r","x":14.71},{"g":"3r","x":14.82},
{"g":"4k","x":4.36},{"g":"4k","x":5.68},{"g":"4k","x":5.73},{"g":"4k","x":5.75},{"g":"4k","x":5.86},{"g":"4k","x":6.12},{"g":"4k","x":6.38},{"g":"4k","x":6.47},{"g":"4k","x":6.71},{"g":"4k","x":6.78},{"g":"4k","x":7.13},{"g":"4k","x":7.66},{"g":"4k","x":8.16},{"g":"4k","x":8.34},{"g":"4k","x":8.45},{"g":"4k","x":8.76},{"g":"4k","x":8.93},{"g":"4k","x":9.37},{"g":"4k","x":9.77},{"g":"4k","x":9.81},{"g":"4k","x":9.88},{"g":"4k","x":10.1},{"g":"4k","x":10.19},{"g":"4k","x":10.3},{"g":"4k","x":10.49},{"g":"4k","x":10.54},{"g":"4k","x":10.6},{"g":"4k","x":10.76},{"g":"4k","x":10.91},{"g":"4k","x":11.02},{"g":"4k","x":11.26},{"g":"4k","x":11.31},{"g":"4k","x":11.35},{"g":"4k","x":11.55},{"g":"4k","x":11.66},{"g":"4k","x":11.68},{"g":"4k","x":11.73},{"g":"4k","x":11.75},{"g":"4k","x":11.79},{"g":"4k","x":12.08},{"g":"4k","x":12.1},{"g":"4k","x":12.14},{"g":"4k","x":12.19},{"g":"4k","x":12.21},{"g":"4k","x":12.25},{"g":"4k","x":12.54},{"g":"4k","x":12.74},{"g":"4k","x":12.78},{"g":"4k","x":12.85},{"g":"4k","x":12.98},{"g":"4k","x":13.07},{"g":"4k","x":13.11},{"g":"4k","x":13.18},{"g":"4k","x":13.22},{"g":"4k","x":13.29},{"g":"4k","x":13.37},{"g":"4k","x":13.42},{"g":"4k","x":13.51},{"g":"4k","x":13.55},{"g":"4k","x":13.64},{"g":"4k","x":13.79},{"g":"4k","x":13.86},{"g":"4k","x":14.16},{"g":"4k","x":14.21},{"g":"4k","x":14.27},{"g":"4k","x":14.32},{"g":"4k","x":14.38},{"g":"4k","x":14.43},{"g":"4k","x":14.54},{"g":"4k","x":14.58},{"g":"4k","x":14.74},{"g":"4k","x":14.78},
{"g":"4r","x":4.19},{"g":"4r","x":4.82},{"g":"4r","x":5.64},{"g":"4r","x":6.3},{"g":"4r","x":6.45},{"g":"4r","x":6.6},{"g":"4r","x":7.0},{"g":"4r","x":7.04},{"g":"4r","x":8.14},{"g":"4r","x":8.23},{"g":"4r","x":8.34},{"g":"4r","x":8.87},{"g":"4r","x":9.55},{"g":"4r","x":9.64},{"g":"4r","x":9.68},{"g":"4r","x":9.75},{"g":"4r","x":9.81},{"g":"4r","x":9.88},{"g":"4r","x":10.12},{"g":"4r","x":10.19},{"g":"4r","x":10.25},{"g":"4r","x":10.43},{"g":"4r","x":10.49},{"g":"4r","x":10.56},{"g":"4r","x":10.65},{"g":"4r","x":10.87},{"g":"4r","x":10.93},{"g":"4r","x":11.0},{"g":"4r","x":11.31},{"g":"4r","x":11.33},{"g":"4r","x":11.64},{"g":"4r","x":11.75},{"g":"4r","x":12.03},{"g":"4r","x":12.1},{"g":"4r","x":12.32},{"g":"4r","x":12.6},{"g":"4r","x":12.65},{"g":"4r","x":12.85},{"g":"4r","x":12.96},{"g":"4r","x":13.13},{"g":"4r","x":13.2},{"g":"4r","x":13.24},{"g":"4r","x":13.29},{"g":"4r","x":13.31},{"g":"4r","x":13.37},{"g":"4r","x":13.42},{"g":"4r","x":13.48},{"g":"4r","x":13.53},{"g":"4r","x":13.62},{"g":"4r","x":13.66},{"g":"4r","x":13.73},{"g":"4r","x":13.77},{"g":"4r","x":13.86},{"g":"4r","x":13.95},{"g":"4r","x":14.01},{"g":"4r","x":14.1},{"g":"4r","x":14.16},{"g":"4r","x":14.25},{"g":"4r","x":14.34},{"g":"4r","x":14.45},{"g":"4r","x":14.52},{"g":"4r","x":14.65},{"g":"4r","x":14.74},
{"g":"5k","x":4.38},{"g":"5k","x":5.62},{"g":"5k","x":5.68},{"g":"5k","x":5.73},{"g":"5k","x":5.77},{"g":"5k","x":6.03},{"g":"5k","x":6.38},{"g":"5k","x":6.6},{"g":"5k","x":6.67},{"g":"5k","x":7.24},{"g":"5k","x":7.53},{"g":"5k","x":8.12},{"g":"5k","x":8.34},{"g":"5k","x":8.45},{"g":"5k","x":8.8},{"g":"5k","x":8.85},{"g":"5k","x":8.91},{"g":"5k","x":9.26},{"g":"5k","x":9.51},{"g":"5k","x":9.68},{"g":"5k","x":10.1},{"g":"5k","x":10.19},{"g":"5k","x":10.23},{"g":"5k","x":10.34},{"g":"5k","x":10.38},{"g":"5k","x":10.43},{"g":"5k","x":10.54},{"g":"5k","x":10.78},{"g":"5k","x":10.91},{"g":"5k","x":11.26},{"g":"5k","x":11.31},{"g":"5k","x":11.33},{"g":"5k","x":11.37},{"g":"5k","x":11.42},{"g":"5k","x":11.46},{"g":"5k","x":11.53},{"g":"5k","x":11.59},{"g":"5k","x":11.66},{"g":"5k","x":11.75},{"g":"5k","x":12.01},{"g":"5k","x":12.05},{"g":"5k","x":12.1},{"g":"5k","x":12.12},{"g":"5k","x":12.19},{"g":"5k","x":12.25},{"g":"5k","x":12.36},{"g":"5k","x":12.43},{"g":"5k","x":12.54},{"g":"5k","x":12.74},{"g":"5k","x":12.78},{"g":"5k","x":13.2},{"g":"5k","x":13.24},{"g":"5k","x":13.29},{"g":"5k","x":13.4},{"g":"5k","x":14.19},{"g":"5k","x":14.27},{"g":"5k","x":14.34},{"g":"5k","x":14.38},{"g":"5k","x":14.43},{"g":"5k","x":14.49},{"g":"5k","x":14.54},{"g":"5k","x":14.58},{"g":"5k","x":14.63},{"g":"5k","x":14.69},{"g":"5k","x":14.74},{"g":"5k","x":14.78},
{"g":"5r","x":4.08},{"g":"5r","x":4.71},{"g":"5r","x":5.53},{"g":"5r","x":6.19},{"g":"5r","x":6.47},{"g":"5r","x":6.93},{"g":"5r","x":7.99},{"g":"5r","x":8.01},{"g":"5r","x":8.05},{"g":"5r","x":8.21},{"g":"5r","x":8.67},{"g":"5r","x":9.42},{"g":"5r","x":9.46},{"g":"5r","x":9.51},{"g":"5r","x":9.55},{"g":"5r","x":9.59},{"g":"5r","x":9.95},{"g":"5r","x":10.01},{"g":"5r","x":10.08},{"g":"5r","x":10.21},{"g":"5r","x":10.3},{"g":"5r","x":10.65},{"g":"5r","x":10.71},{"g":"5r","x":10.78},{"g":"5r","x":10.85},{"g":"5r","x":11.09},{"g":"5r","x":11.4},{"g":"5r","x":11.46},{"g":"5r","x":11.79},{"g":"5r","x":11.86},{"g":"5r","x":11.9},{"g":"5r","x":12.1},{"g":"5r","x":12.25},{"g":"5r","x":12.54},{"g":"5r","x":12.74},{"g":"5r","x":12.91},{"g":"5r","x":12.98},{"g":"5r","x":13.13},{"g":"5r","x":13.18},{"g":"5r","x":13.2},{"g":"5r","x":13.24},{"g":"5r","x":13.29},{"g":"5r","x":13.33},{"g":"5r","x":13.42},{"g":"5r","x":13.48},{"g":"5r","x":13.62},{"g":"5r","x":13.79},{"g":"5r","x":13.86},{"g":"5r","x":14.08},{"g":"5r","x":14.16},{"g":"5r","x":14.36},{"g":"5r","x":14.41},{"g":"5r","x":14.69},
{"g":"6k","x":4.41},{"g":"6k","x":5.66},{"g":"6k","x":5.9},{"g":"6k","x":6.01},{"g":"6k","x":6.38},{"g":"6k","x":6.65},{"g":"6k","x":6.74},{"g":"6k","x":7.2},{"g":"6k","x":7.62},{"g":"6k","x":8.19},{"g":"6k","x":8.43},{"g":"6k","x":8.45},{"g":"6k","x":8.82},{"g":"6k","x":8.93},{"g":"6k","x":9.44},{"g":"6k","x":9.68},{"g":"6k","x":9.88},{"g":"6k","x":10.08},{"g":"6k","x":10.14},{"g":"6k","x":10.21},{"g":"6k","x":10.3},{"g":"6k","x":10.41},{"g":"6k","x":10.49},{"g":"6k","x":10.69},{"g":"6k","x":10.8},{"g":"6k","x":10.91},{"g":"6k","x":11.07},{"g":"6k","x":11.15},{"g":"6k","x":11.29},{"g":"6k","x":11.35},{"g":"6k","x":11.4},{"g":"6k","x":11.48},{"g":"6k","x":11.55},{"g":"6k","x":11.64},{"g":"6k","x":11.7},{"g":"6k","x":11.77},{"g":"6k","x":11.88},{"g":"6k","x":11.99},{"g":"6k","x":12.12},{"g":"6k","x":12.23},{"g":"6k","x":12.34},{"g":"6k","x":12.76},{"g":"6k","x":12.78},{"g":"6k","x":12.82},{"g":"6k","x":13.11},{"g":"6k","x":13.26},{"g":"6k","x":14.1},{"g":"6k","x":14.16},{"g":"6k","x":14.25},{"g":"6k","x":14.32},{"g":"6k","x":14.36},{"g":"6k","x":14.43},{"g":"6k","x":14.49},{"g":"6k","x":14.56},{"g":"6k","x":14.6},{"g":"6k","x":14.65},{"g":"6k","x":14.71},
{"g":"7k","x":4.36},{"g":"7k","x":5.64},{"g":"7k","x":5.84},{"g":"7k","x":5.99},{"g":"7k","x":6.32},{"g":"7k","x":6.49},{"g":"7k","x":6.67},{"g":"7k","x":7.11},{"g":"7k","x":7.59},{"g":"7k","x":8.1},{"g":"7k","x":8.34},{"g":"7k","x":8.38},{"g":"7k","x":8.74},{"g":"7k","x":8.87},{"g":"7k","x":9.35},{"g":"7k","x":9.66},{"g":"7k","x":9.75},{"g":"7k","x":10.01},{"g":"7k","x":10.1},{"g":"7k","x":10.16},{"g":"7k","x":10.23},{"g":"7k","x":10.43},{"g":"7k","x":10.52},{"g":"7k","x":10.6},{"g":"7k","x":10.71},{"g":"7k","x":10.82},{"g":"7k","x":10.96},{"g":"7k","x":11.09},{"g":"7k","x":11.18},{"g":"7k","x":11.24},{"g":"7k","x":11.31},{"g":"7k","x":11.37},{"g":"7k","x":11.53},{"g":"7k","x":11.59},{"g":"7k","x":11.75},{"g":"7k","x":11.95},{"g":"7k","x":12.01},{"g":"7k","x":12.08},{"g":"7k","x":12.16},{"g":"7k","x":12.38},{"g":"7k","x":12.63},{"g":"7k","x":12.69},{"g":"7k","x":12.71},{"g":"7k","x":12.98},{"g":"7k","x":13.09},{"g":"7k","x":13.88},{"g":"7k","x":14.05},{"g":"7k","x":14.21},{"g":"7k","x":14.27},{"g":"7k","x":14.34},{"g":"7k","x":14.41},{"g":"7k","x":14.49},{"g":"7k","x":14.58},{"g":"7k","x":14.69},{"g":"7k","x":14.78},{"g":"7k","x":14.87}
],
"lab": [
{"x":3.42,"y":820,"t":"0.55(5) GPa"},{"x":3.42,"y":801,"t":"release"},{"x":3.18,"y":692,"t":"20.5(2) GPa"},{"x":3.31,"y":581,"t":"10.5(1) GPa"},{"x":3.18,"y":462,"t":"10.3(1) GPa"},{"x":3.11,"y":353,"t":"2.90(5) GPa"},{"x":3.24,"y":194,"t":"2.20(5) GPa"},{"x":3.11,"y":59,"t":"0.30(5) GPa"}
],
"cu": [
{"x":11.15,"y":822,"t":"Cu 111"},{"x":13.35,"y":816,"t":"Cu 200"},{"x":11.7,"y":722,"t":"Cu 111"},{"x":11.95,"y":619,"t":"Cu 111"},{"x":11.88,"y":501,"t":"Cu 111"},{"x":11.15,"y":379,"t":"Cu 111"},{"x":13.42,"y":351,"t":"Cu 200"},{"x":11.66,"y":211,"t":"Cu 111"},{"x":13.4,"y":207,"t":"Cu 200"},{"x":11.53,"y":86,"t":"Cu 111"},{"x":13.33,"y":78,"t":"Cu 200"}
],
"arr": [
{"x":11.33,"y":832,"x2":11.55,"y2":820},{"x":11.92,"y":727,"x2":12.12,"y2":717},{"x":11.35,"y":386,"x2":11.57,"y2":376}
],
"ah": [
{"x":11.57,"y":819},{"x":12.14,"y":716},{"x":11.59,"y":375}
],
"st": [
{"x":5.86,"y":464,"c":"k","t":"*"},{"x":6.12,"y":481,"c":"k","t":"*"},{"x":9.02,"y":466,"c":"k","t":"*"},{"x":9.37,"y":457,"c":"k","t":"*"},
{"x":4.71,"y":336,"c":"r","t":"*"},{"x":6.93,"y":360,"c":"r","t":"*"},{"x":7.84,"y":396,"c":"r","t":"*"},{"x":8.69,"y":352,"c":"r","t":"*"},{"x":9.55,"y":392,"c":"r","t":"*"},
{"x":5.7,"y":358,"c":"k","t":"*"},{"x":6.03,"y":374,"c":"k","t":"*"},{"x":7.22,"y":349,"c":"k","t":"*"},{"x":8.91,"y":336,"c":"k","t":"*"},{"x":9.24,"y":337,"c":"k","t":"*"}
]
},
"encoding": {
"x": {"field": "x", "type": "quantitative", "scale": {"domain": [3, 15]}, "axis": null},
"y": {"field": "y", "type": "quantitative", "scale": {"domain": [0, 854]}, "axis": null}
},
"layer": [
{"data": {"name": "obs"}, "mark": {"type": "line", "color": "black", "strokeWidth": 5, "interpolate": "monotone"},
 "encoding": {
  "x": {"field": "x", "type": "quantitative", "scale": {"domain": [3, 15]},
   "axis": {"orient": "bottom", "values": [3,4,5,6,7,8,9,10,11,12,13,14,15], "labelExpr": "datum.value % 3 == 0 ? datum.label : ''", "title": "2θ (degrees)", "grid": false, "tickSize": -5, "tickWidth": 1.3, "tickColor": "black", "domainColor": "black", "domainWidth": 1.5, "labelFontSize": 19, "labelFont": "Liberation Sans", "labelColor": "black", "labelPadding": 7, "labelFlush": false, "labelOverlap": false, "titleFontSize": 32, "titleFont": "Liberation Sans", "titleFontWeight": "normal", "titleColor": "black", "titleBaseline": "alphabetic", "titleY": 38}},
  "y": {"field": "y", "type": "quantitative", "scale": {"domain": [0, 854]},
   "axis": {"orient": "left", "values": [835,804,773,742,711,681,649,617,587,557,524,493,463,431,400,369,338,307,276,241,207,174,150,112,73,33], "labels": false, "tickSize": -5, "tickWidth": 1.3, "tickColor": "black", "domainColor": "black", "domainWidth": 1.5, "grid": false, "title": "Intensity (arb. units)", "titleFontSize": 38, "titleFont": "Liberation Sans", "titleFontWeight": "normal", "titleColor": "black", "titleBaseline": "alphabetic", "titleX": -31, "titleY": 451}},
  "detail": {"field": "p"}}},
{"data": {"name": "obs"}, "mark": {"type": "point", "filled": true, "color": "black", "size": 26, "opacity": 1}},
{"data": {"name": "obs"}, "mark": {"type": "line", "color": "#ff0000", "strokeWidth": 1, "interpolate": "monotone"}, "encoding": {"detail": {"field": "p"}}},
{"data": {"name": "refl"}, "transform": [{"lookup": "g", "from": {"data": {"name": "lv"}, "key": "g", "fields": ["y", "c"]}}],
 "mark": {"type": "tick", "orient": "vertical", "size": 9, "thickness": 1.1},
 "encoding": {"color": {"field": "c", "type": "nominal", "scale": {"domain": ["k", "r"], "range": ["#000000", "#ff0000"]}, "legend": null}}},
{"data": {"name": "diff"}, "mark": {"type": "line", "color": "#333333", "strokeWidth": 0.8}, "encoding": {"detail": {"field": "p"}}},
{"data": {"name": "lab"}, "mark": {"type": "text", "align": "left", "baseline": "middle", "fontSize": 15, "font": "Liberation Sans", "color": "black"}, "encoding": {"text": {"field": "t"}}},
{"data": {"name": "cu"}, "mark": {"type": "text", "align": "center", "baseline": "middle", "angle": 270, "fontSize": 12.5, "font": "Liberation Sans", "color": "black"}, "encoding": {"text": {"field": "t"}}},
{"data": {"name": "arr"}, "mark": {"type": "rule", "color": "black", "strokeWidth": 1}, "encoding": {"x2": {"field": "x2"}, "y2": {"field": "y2"}}},
{"data": {"name": "ah"}, "mark": {"type": "point", "shape": "triangle-down", "filled": true, "color": "black", "size": 18, "angle": 320, "opacity": 1}},
{"data": {"name": "st"}, "mark": {"type": "text", "align": "center", "baseline": "alphabetic", "dy": 10, "fontSize": 17, "font": "Liberation Sans"},
 "encoding": {"text": {"field": "t"}, "color": {"field": "c", "type": "nominal", "scale": {"domain": ["k", "r"], "range": ["#000000", "#ff0000"]}, "legend": null}}},
{"data": {"name": "diff"}, "mark": {"type": "point", "opacity": 0},
 "encoding": {
  "x": {"field": "x", "type": "quantitative", "scale": {"domain": [3, 15]},
   "axis": {"orient": "top", "values": [3,4,5,6,7,8,9,10,11,12,13,14,15], "labels": false, "title": null, "grid": false, "tickSize": -5, "tickWidth": 1.3, "tickColor": "black", "domainColor": "black", "domainWidth": 1.5}},
  "y": {"field": "y", "type": "quantitative", "scale": {"domain": [0, 854]},
   "axis": {"orient": "right", "values": [835,804,773,742,711,681,649,617,587,557,524,493,463,431,400,369,338,307,276,241,207,174,150,112,73,33], "labels": false, "title": null, "grid": false, "tickSize": -5, "tickWidth": 1.3, "tickColor": "black", "domainColor": "black", "domainWidth": 1.5}}}}
],
"resolve": {"axis": {"x": "independent", "y": "independent"}}
}
